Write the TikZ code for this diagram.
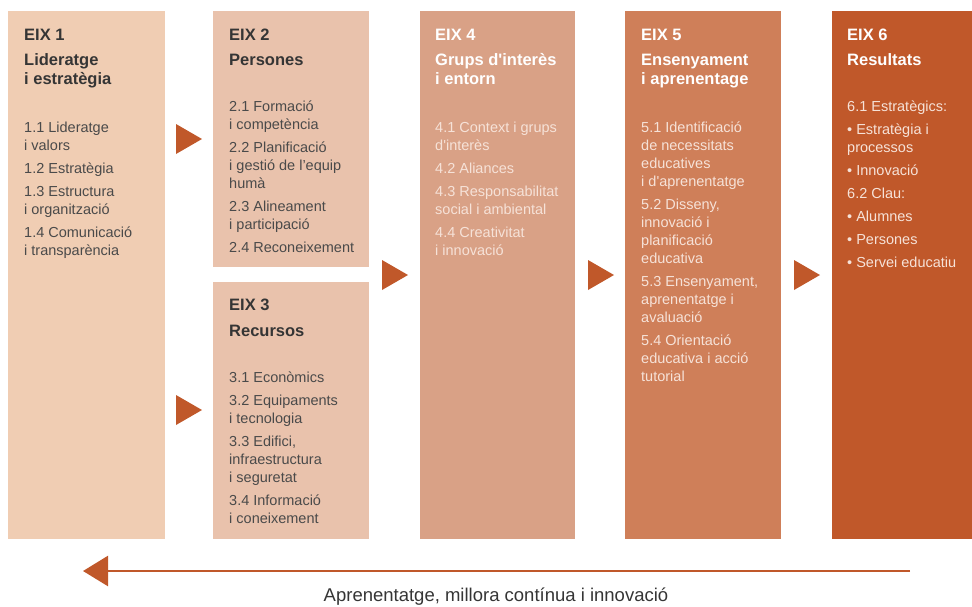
\documentclass[tikz,border=0pt]{standalone}
\usepackage{fontspec}
\setmainfont{Liberation Sans}
\usetikzlibrary{arrows.meta}

\definecolor{eixfillA}{HTML}{F0CDB3}
\definecolor{eixfillB}{HTML}{E9C2AC}
\definecolor{eixfillC}{HTML}{D9A186}
\definecolor{eixfillD}{HTML}{CF7F59}
\definecolor{eixfillE}{HTML}{C0582A}
\definecolor{pointercol}{HTML}{C0582A}
\definecolor{darktext}{HTML}{353535}
\definecolor{greytext}{HTML}{4A4A4A}
\definecolor{paletext}{HTML}{F6E2D8}

% lines stacked with the first baseline on the node's base
\newcommand{\eixlines}[1]{\begin{tabular}[t]{@{}l@{}}#1\end{tabular}}

\begin{document}
\begin{tikzpicture}[x=1pt, y=-1pt,
	eixbox/.style={rectangle, inner sep=0pt, outer sep=0pt, anchor=north west,
		minimum width=156pt, minimum height=528pt},
	eixnum/.style={anchor=base west, inner sep=0pt, text=darktext,
		font=\fontsize{16.5}{19}\selectfont\bfseries},
	eixtitle/.style={eixnum},
	eixitems/.style={anchor=base west, inner sep=0pt, text=greytext,
		font=\fontsize{14.5}{18}\selectfont},
	pointer/.style={fill=pointercol},
	feedback/.style={draw=pointercol, line width=2.5pt,
		-{Triangle[length=25pt, width=30pt]}}
	]
	\useasboundingbox (0,0) rectangle (972,606);

	% boxes
	\node[eixbox, fill=eixfillA, minimum width=157pt] (eix1) at (8,11) {};
	\node[eixbox, fill=eixfillB, minimum height=256pt] (eix2) at (213,11) {};
	\node[eixbox, fill=eixfillB, minimum height=257pt] (eix3) at (213,282) {};
	\node[eixbox, fill=eixfillC, minimum width=155pt] (eix4) at (420,11) {};
	\node[eixbox, fill=eixfillD] (eix5) at (625,11) {};
	\node[eixbox, fill=eixfillE, minimum width=140pt] (eix6) at (832,11) {};

	% eix 1
	\node[eixnum] (eix1num) at (24,40) {EIX 1};
	\node[eixtitle] (eix1title) at (24,65) {\eixlines{Lideratge\\i estratègia}};
	\node[eixitems] (eix1items) at (24,132) {\eixlines{1.1 Lideratge\\i valors\\[5pt]
		1.2 Estratègia\\[5pt]
		1.3 Estructura\\i organització\\[5pt]
		1.4 Comunicació\\i transparència}};

	% eix 2
	\node[eixnum] (eix2num) at (229,40) {EIX 2};
	\node[eixtitle] (eix2title) at (229,65) {Persones};
	\node[eixitems] (eix2items) at (229,111) {\eixlines{2.1 Formació\\i competència\\[5pt]
		2.2 Planificació\\i gestió de l'equip\\humà\\[5pt]
		2.3 Alineament\\i participació\\[5pt]
		2.4 Reconeixement}};

	% eix 3
	\node[eixnum] (eix3num) at (229,310) {EIX 3};
	\node[eixtitle] (eix3title) at (229,336) {Recursos};
	\node[eixitems] (eix3items) at (229,382) {\eixlines{3.1 Econòmics\\[5pt]
		3.2 Equipaments\\i tecnologia\\[5pt]
		3.3 Edifici,\\infraestructura\\i seguretat\\[5pt]
		3.4 Informació\\i coneixement}};

	% eix 4
	\node[eixnum, text=white] (eix4num) at (435,40) {EIX 4};
	\node[eixtitle, text=white] (eix4title) at (435,65) {\eixlines{Grups d\textquotesingle interès\\i entorn}};
	\node[eixitems, text=paletext] (eix4items) at (435,132) {\eixlines{4.1 Context i grups\\d\textquotesingle interès\\[5pt]
		4.2 Aliances\\[5pt]
		4.3 Responsabilitat\\social i ambiental\\[5pt]
		4.4 Creativitat\\i innovació}};

	% eix 5
	\node[eixnum, text=white] (eix5num) at (641,40) {EIX 5};
	\node[eixtitle, text=white] (eix5title) at (641,65) {\eixlines{Ensenyament\\i aprenentage}};
	\node[eixitems, text=paletext] (eix5items) at (641,132) {\eixlines{5.1 Identificació\\de necessitats\\educatives\\i d\textquotesingle aprenentatge\\[5pt]
		5.2 Disseny,\\innovació i\\planificació\\educativa\\[5pt]
		5.3 Ensenyament,\\aprenentatge i\\avaluació\\[5pt]
		5.4 Orientació\\educativa i acció\\tutorial}};

	% eix 6
	\node[eixnum, text=white] (eix6num) at (847,40) {EIX 6};
	\node[eixtitle, text=white] (eix6title) at (847,65) {Resultats};
	\node[eixitems, text=paletext] (eix6items) at (847,111) {\eixlines{6.1 Estratègics:\\[5pt]
		\textbullet\ Estratègia i\\processos\\[5pt]
		\textbullet\ Innovació\\[5pt]
		6.2 Clau:\\[5pt]
		\textbullet\ Alumnes\\[5pt]
		\textbullet\ Persones\\[5pt]
		\textbullet\ Servei educatiu}};

	% triangles between the boxes
	\foreach \px/\py in {176/139, 176/410, 382/275, 588/275, 794/275}
		\fill[pointer] (\px,\py-15) -- (\px+26,\py) -- (\px,\py+15) -- cycle;

	% bottom arrow
	\coordinate (feedstart) at (910,571);
	\coordinate (feedend) at (83,571);
	\draw[feedback] (feedstart) -- (feedend);
	\node[anchor=base, inner sep=0pt, text=darktext, font=\fontsize{18.5}{22}\selectfont]
		(feedlabel) at (496,601) {Aprenentatge, millora contínua i innovació};

\end{tikzpicture}
\end{document}
